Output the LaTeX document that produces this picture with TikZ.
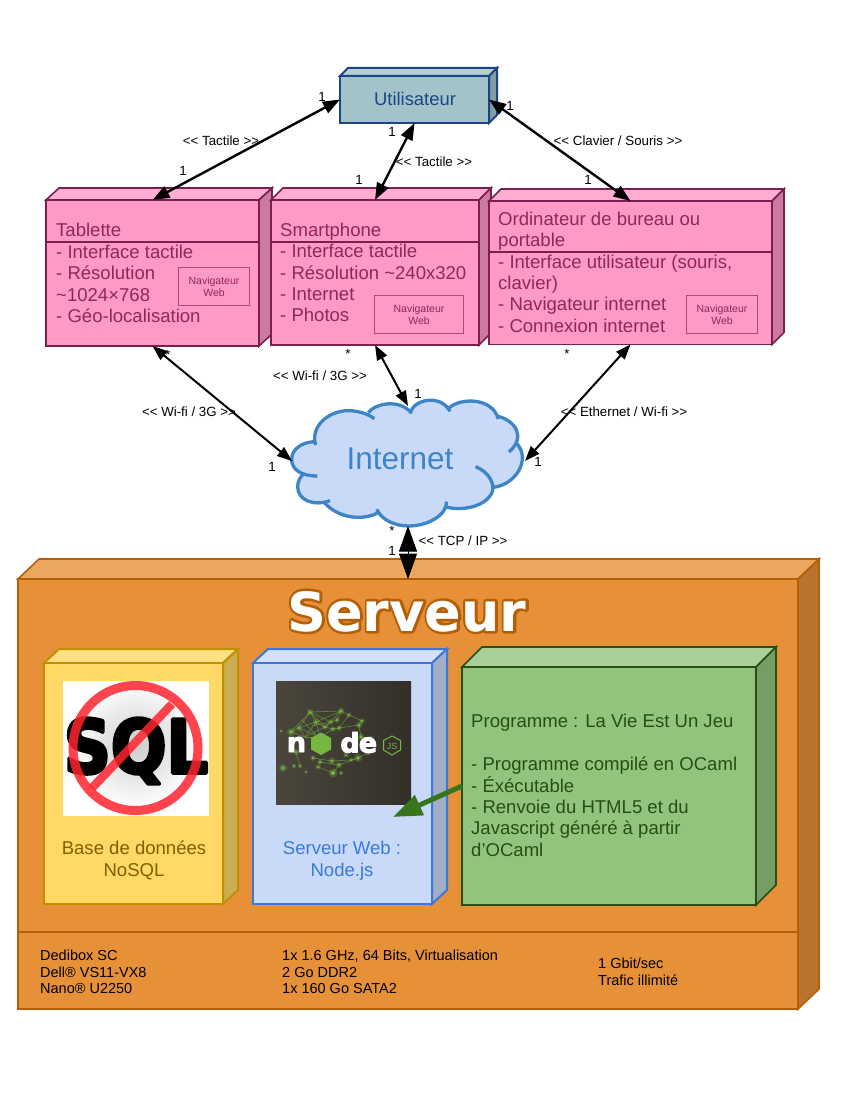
\documentclass[tikz,border=0pt]{standalone}
\usepackage{fontspec}
\setmainfont{Liberation Sans}
\newfontfamily\djb{DejaVu Sans Bold}
\usetikzlibrary{arrows.meta}
\definecolor{pinkF}{HTML}{FF99C6}\definecolor{pinkT}{HTML}{FFADD1}\definecolor{pinkS}{HTML}{CC7AA0}\definecolor{pinkL}{HTML}{7A1F50}\definecolor{pinkX}{HTML}{8A2A5E}
\definecolor{userF}{HTML}{A2C4C9}\definecolor{userT}{HTML}{B5D0D4}\definecolor{userS}{HTML}{829DA1}\definecolor{userL}{HTML}{1C4587}
\definecolor{servF}{HTML}{E69138}\definecolor{servT}{HTML}{EBA760}\definecolor{servS}{HTML}{B8742D}\definecolor{servL}{HTML}{B45F06}
\definecolor{baseF}{HTML}{FFD966}\definecolor{baseT}{HTML}{FFE185}\definecolor{baseS}{HTML}{CCAE52}\definecolor{baseL}{HTML}{BF9000}\definecolor{baseX}{HTML}{7F6000}
\definecolor{webF}{HTML}{C9DAF8}\definecolor{webT}{HTML}{D4E1F9}\definecolor{webS}{HTML}{A1AEC6}\definecolor{webL}{HTML}{3C78D8}
\definecolor{progF}{HTML}{93C47D}\definecolor{progT}{HTML}{A9D098}\definecolor{progS}{HTML}{769D64}\definecolor{progL}{HTML}{274E13}
\definecolor{cloudL}{HTML}{3D85C6}\definecolor{arrowG}{HTML}{38761D}\definecolor{navL}{HTML}{A64D79}\definecolor{nodeBgA}{HTML}{4A463C}\definecolor{nodeBgB}{HTML}{322F29}\definecolor{nodeG}{HTML}{76B83F}\definecolor{noRed}{HTML}{FF2430}
\newcommand\cuboid[8]{%
 \draw[fill=#8T,draw=#8L,line join=miter] (#2,#3) -- ({#2+#6},{#3-#7}) -- ({#4+#6},{#3-#7}) -- (#4,#3) -- cycle;
 \draw[fill=#8S,draw=#8L,line join=miter] (#4,#3) -- ({#4+#6},{#3-#7}) -- ({#4+#6},{#5-#7}) -- (#4,#5) -- cycle;
 \node[draw=#8L,fill=#8F,anchor=north west,inner sep=0pt,outer sep=0pt,minimum width={(#4-#2)*1pt},minimum height={(#5-#3)*1pt}] (#1) at (#2,#3) {};
}
\newcommand\fstrut{\rule{0pt}{15pt}}
\newcommand\heavy[3]{\special{pdf:code q 2 Tr #1 w 1 j #2 RG}#3\special{pdf:code Q}}
\tikzset{
 x=1pt,y=-1pt,
 bodytext/.style={anchor=north west,inner sep=0pt,align=left,font=\fontsize{18.55}{21.4}\selectfont},
 centertext/.style={anchor=north,inner sep=0pt,align=center,font=\fontsize{18.55}{21.7}\selectfont},
 lab/.style={inner sep=0pt,font=\fontsize{13.3}{15}\selectfont},
 navbox/.style={draw=navL,line width=1pt,inner sep=0pt,align=center,text=pinkX,anchor=north west,font=\fontsize{10.5}{12}\selectfont},
 rel/.style={line width=2.4pt,{Triangle[length=17pt,width=12.5pt]}-{Triangle[length=17pt,width=12.5pt]}},
 relb/.style={line width=2pt,{Triangle[length=15pt,width=11pt]}-{Triangle[length=15pt,width=11pt]}},
 reltcp/.style={line width=1pt,{Triangle[length=25.5pt,width=18pt]}-{Triangle[length=25.5pt,width=18pt]}},
 relgreen/.style={draw=arrowG,line width=5pt,-{Triangle[length=29pt,width=21pt]}},
 cloudstroke/.style={draw=cloudL,line width=3.3pt},
 dividerp/.style={draw=pinkL,line width=1.6pt},
 info/.style={anchor=north west,inner sep=0pt,align=left,font=\fontsize{14.5}{16.5}\selectfont},
 mote/.style={fill=nodeG,draw=none},
 glow/.style={fill=nodeG,draw=none,opacity=.3},
 strand/.style={draw=nodeG,line width=.6pt,opacity=.6},
 nodeletter/.style={anchor=base,inner sep=0pt,text=white,font=\djb\fontsize{27}{27}\selectfont},
}
\begin{document}
\begin{tikzpicture}
\useasboundingbox (0,0) rectangle (854,1107);
\fill[white] (0,0) rectangle (854,1107);

% top boxes
\begin{scope}[line width=2pt]
\cuboid{user}{340}{76}{489}{123}{8}{8}{user}
\end{scope}
\node[inner sep=0pt,text=userL,font=\fontsize{18.4}{22}\selectfont] (usertext) at (415,99) {Utilisateur};

\begin{scope}[line width=1.6pt]
\cuboid{tablette}{46}{200}{259}{346}{13}{12}{pink}
\cuboid{smart}{271}{200}{479}{345}{12}{12}{pink}
\cuboid{ordi}{489}{201}{772}{344.5}{12}{12}{pink}
\end{scope}
\draw[dividerp] (45,242) -- (259,242);
\draw[dividerp] (271,242) -- (479,242);
\draw[dividerp] (489,252) -- (772,252);

\node[bodytext,text=pinkX] (tablettetext) at (56,221.7) {\fstrut Tablette\\- Interface tactile\\- Résolution\\\textasciitilde 1024×768\\- Géo-localisation};
\node[bodytext,text=pinkX] (smarttext) at (280,221) {\fstrut Smartphone\\- Interface tactile\\- Résolution \textasciitilde 240x320\\- Internet\\- Photos};
\node[bodytext,text=pinkX] (orditext) at (498,210) {\fstrut Ordinateur de bureau ou\\portable\\- Interface utilisateur (souris,\\clavier)\\- Navigateur internet\\- Connexion internet};

\node[navbox,minimum width=71pt,minimum height=38pt] (nav1) at (178,267) {Navigateur\\Web};
\node[navbox,minimum width=89pt,minimum height=38pt] (nav2) at (374,295) {Navigateur\\Web};
\node[navbox,minimum width=71pt,minimum height=38pt] (nav3) at (686,295) {Navigateur\\Web};

% server
\begin{scope}[line width=1.6pt]
\cuboid{server}{18}{579}{798}{1009}{21}{20}{serv}
\end{scope}
\draw[draw=servL,line width=1.6pt] (18,932) -- (798,932);

\node[anchor=base,inner sep=0pt,text=white,font=\djb\fontsize{54}{60}\selectfont] (servertitle) at (407,631)
 {\rlap{\special{pdf:code q 1 Tr 5 w 1 j 0.706 0.373 0.024 RG}Serveur\special{pdf:code Q}}Serveur};

\begin{scope}[line width=2pt]
\cuboid{base}{44}{663}{223}{904}{15}{14}{base}
\cuboid{web}{253}{663}{432}{904}{15}{14}{web}
\end{scope}
\begin{scope}[line width=1.6pt]
\cuboid{prog}{462}{667}{756}{905}{20}{20}{prog}
\end{scope}

% NoSQL picture
\fill[white] (63,681) rectangle (209,816);
\shade[inner color=black!20,outer color=white] (136,745) circle (64);
\node[anchor=base,inner sep=0pt,xscale=.885,font=\djb\fontsize{74}{74}\selectfont,text=black] (sqlword) at (136,773) {\heavy{3.5}{0 0 0}{SQL}};
\draw[noRed,opacity=.85,line width=9pt] (135.5,748) circle (62.5);
\draw[noRed,opacity=.85,line width=8.5pt] (172,704) -- (92,788);

% Node.js picture
\shade[left color=nodeBgA,right color=nodeBgB] (276,681) rectangle (411,804);
\foreach \a/\b/\c/\d in {291/732/310/712,310/712/341/711,310/712/316/722,316/722/325/727,325/727/331/722,331/722/337/720,337/720/341/711,341/711/349/715,291/732/299/728,299/728/316/722,299/728/310/712,316/722/341/711,325/727/341/711,291/732/305/737,305/737/325/727,299/728/305/737,316/722/305/737,310/712/325/727,310/712/331/722,325/727/333/729,333/729/339/728,339/728/349/715,339/728/359/725,359/725/362/721,349/715/362/721,333/729/320/737,316/722/320/737,299/728/320/737,305/737/320/737,312/726/331/722,302/720/316/735,296/752/300/766,313/758/332/761,332/761/351/760,351/760/358/758,358/758/368/753,339/765/358/758,333/773/339/765,320/762/339/765,318/767/333/773,361/737/371/738,359/725/361/737}
  {\draw[strand] (\a,\b) -- (\c,\d);}
\foreach \p/\q/\r in {341/711/1.6,310/712/1.5,291/732/1.8,299/728/1.3,316/722/1.5,325/727/1.3,331/722/1.2,337/720/1.3,349/715/1.2,362/721/1.3,359/725/1.5,333/729/1.3,339/728/1.3,361/737/1.6,371/738/1.2,333/773/2,358/758/1.8,351/760/1,339/765/1.4,332/761/1.6,320/762/1.3,318/767/1.2,296/752/1.4,283/768/1.8,294/766/1,300/766/1,306/772/.8,281/731/.8,313/758/1.3,368/753/1.2,346/755/1.2,341/773/1}
  {\fill[glow] (\p,\q) circle ({2.2*\r}); \fill[mote] (\p,\q) circle (\r);}
\node[nodeletter] (noden) at (296.5,752) {\heavy{.9}{1 1 1}{n}};
\fill[nodeG] (321,732.5) -- (331,738) -- (331,749.5) -- (321,755) -- (311,749.5) -- (311,738) -- cycle;
\node[nodeletter] (noded) at (350,752.5) {\heavy{.9}{1 1 1}{d}};
\node[nodeletter] (nodee) at (368,752.5) {\heavy{.9}{1 1 1}{e}};
\draw[nodeG,line width=1pt] (392,736) -- (400.5,740.5) -- (400.5,750) -- (392,755) -- (383.5,750) -- (383.5,740.5) -- cycle;
\node[inner sep=0pt,text=nodeG,font=\fontsize{9}{9}\selectfont] (nodejs) at (392,746) {JS};

\node[centertext,text=baseX] (basetext) at (134,841) {Base de données\\NoSQL};
\node[centertext,text=webL] (webtext) at (342,841) {Serveur Web :\\Node.js};
\node[bodytext,text=progL] (progtext) at (471,712.7) {\fstrut Programme : La Vie Est Un Jeu\\[21.4pt]- Programme compilé en OCaml\\- Éxécutable\\- Renvoie du HTML5 et du\\Javascript généré à partir\\d'OCaml};

\node[info] (info1) at (40,950) {Dedibox SC\\Dell® VS11-VX8\\Nano® U2250};
\node[info] (info2) at (282,950) {1x 1.6 GHz, 64 Bits, Virtualisation\\2 Go DDR2\\1x 160 Go SATA2};
\node[info] (info3) at (598,958) {1 Gbit/sec\\Trafic illimité};

% cloud
\begin{scope}[shift={(285,390)},x=0.3333pt,y=-0.3333pt]
\def\lobeA{(97,258) .. controls (50,258) and (20,240) .. (20,208) .. controls (20,175) and (55,155) .. (92,155)}
\def\lobeB{(92,165) .. controls (75,110) and (130,62) .. (190,62) .. controls (220,62) and (250,72) .. (268,86)}
\def\lobeC{(250,68) .. controls (270,40) and (345,25) .. (380,70)}
\def\lobeD{(378,62) .. controls (395,25) and (470,15) .. (495,64)}
\def\lobeE{(487,60) .. controls (510,25) and (620,15) .. (640,87)}
\def\lobeF{(635,78) .. controls (690,90) and (725,140) .. (672,186)}
\def\lobeG{(695,160) .. controls (740,210) and (690,285) .. (625,292)}
\def\lobeH{(572,230) .. controls (610,245) and (630,280) .. (622,305) .. controls (605,350) and (530,365) .. (480,350)}
\def\lobeI{(485,335) .. controls (485,375) and (430,408) .. (370,408) .. controls (330,408) and (290,390) .. (275,358)}
\def\lobeJ{(285,365) .. controls (235,395) and (160,385) .. (118,338)}
\def\lobeK{(135,332) .. controls (85,350) and (38,330) .. (38,290) .. controls (38,275) and (45,262) .. (55,252)}
\fill[webF] \lobeA -- \lobeB -- \lobeC -- \lobeD -- \lobeE -- \lobeF -- \lobeG -- \lobeH -- \lobeI -- \lobeJ -- \lobeK -- cycle;
\foreach \lobe in {\lobeA,\lobeB,\lobeC,\lobeD,\lobeE,\lobeF,\lobeG,\lobeH,\lobeI,\lobeJ,\lobeK}{\draw[cloudstroke] \lobe;}
\end{scope}
\node[anchor=base,inner sep=0pt,text=cloudL,font=\fontsize{31.5}{36}\selectfont] (internet) at (400,469) {Internet};
\coordinate (cloudW) at (292,461);
\coordinate (cloudN) at (408,406);
\coordinate (cloudE) at (525,461);
\coordinate (cloudS) at (408,526);
\coordinate (webhit) at (393,817);

% connectors
\draw[rel] (tablette.north) -- (user.west);
\draw[rel] (smart.north) -- (user.south);
\draw[rel] (ordi.north) -- (user.east);
\draw[relb] (tablette.south) -- (cloudW);
\draw[relb] (smart.south) -- (cloudN);
\draw[relb] (ordi.south) -- (cloudE);
\draw[reltcp] (cloudS) -- (server.north);
\draw[relgreen] (prog.west) -- (webhit);

% labels
\node[lab] (l1) at (322,97) {1};
\node[lab] (l2) at (183,171) {1};
\node[lab] (l3) at (221,141) {<{}< Tactile >{}>};
\node[lab] (l4) at (392,132) {1};
\node[lab] (l5) at (434,162) {<{}< Tactile >{}>};
\node[lab] (l6) at (359,180) {1};
\node[lab] (l7) at (510,106) {1};
\node[lab] (l8) at (618,141) {<{}< Clavier / Souris >{}>};
\node[lab] (l9) at (588,180) {1};
\node[lab] (s1) at (168,355) {*};
\node[lab] (s2) at (348,354) {*};
\node[lab] (s3) at (567,354) {*};
\node[lab] (l10) at (320,376) {<{}< Wi-fi / 3G >{}>};
\node[lab] (l11) at (189,412) {<{}< Wi-fi / 3G >{}>};
\node[lab] (l12) at (418,394) {1};
\node[lab] (l13) at (624,412) {<{}< Ethernet / Wi-fi >{}>};
\node[lab] (l14) at (272,467) {1};
\node[lab] (l15) at (538,462) {1};
\node[lab] (s4) at (392,531) {*};
\node[lab] (l16) at (392,551) {1};
\node[lab] (l17) at (463,541) {<{}< TCP / IP >{}>};
\end{tikzpicture}
\end{document}
